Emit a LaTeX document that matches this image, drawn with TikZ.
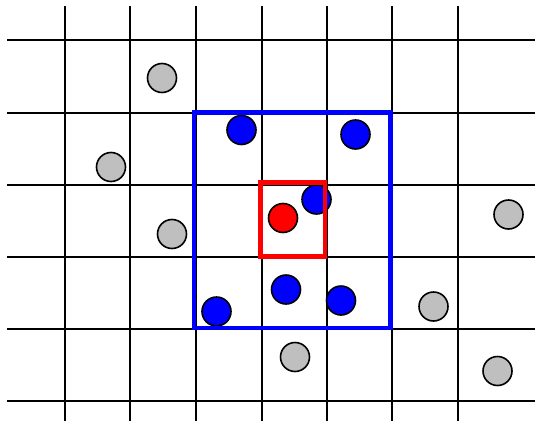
\documentclass[tikz,border=0pt]{standalone}
\begin{document}
\begin{tikzpicture}[x=1pt,y=-1pt,
  gridline/.style={black,line width=2pt},
  pt/.style={circle,draw=black,line width=1.6pt,minimum size=29pt,inner sep=0pt},
  graypt/.style={pt,fill=black!25},
  bluept/.style={pt,fill=blue},
  redpt/.style={pt,fill=red},
  bluebox/.style={draw=blue,line width=4.2pt},
  redbox/.style={draw=red,line width=4.2pt}]
\useasboundingbox (0,0) rectangle (535,423);
% grid
\foreach \x in {65,130,196,262,327,392,458}
  \draw[gridline] (\x,6) -- (\x,421);
\foreach \y in {40,113,185,257,329,401}
  \draw[gridline] (7,\y) -- (535,\y);
% points
\node[graypt] (g1) at (162,78) {};
\node[graypt] (g2) at (111,167) {};
\node[graypt] (g3) at (172,234) {};
\node[graypt] (g4) at (508.5,214.5) {};
\node[graypt] (g5) at (433.5,306.5) {};
\node[graypt] (g6) at (295,357) {};
\node[graypt] (g7) at (497.5,371) {};
\node[bluept] (b1) at (241.5,130) {};
\node[bluept] (b2) at (355.5,134.5) {};
\node[bluept] (b3) at (316.5,199.5) {};
\node[bluept] (b4) at (286,289.5) {};
\node[bluept] (b5) at (341,300.5) {};
\node[bluept] (b6) at (216.5,311.5) {};
\node[redpt] (r1) at (283,218) {};
% boxes
\draw[bluebox] (194,112.5) rectangle (390.5,328);
\draw[redbox] (260.5,182.5) rectangle (325,256.5);
\end{tikzpicture}
\end{document}
